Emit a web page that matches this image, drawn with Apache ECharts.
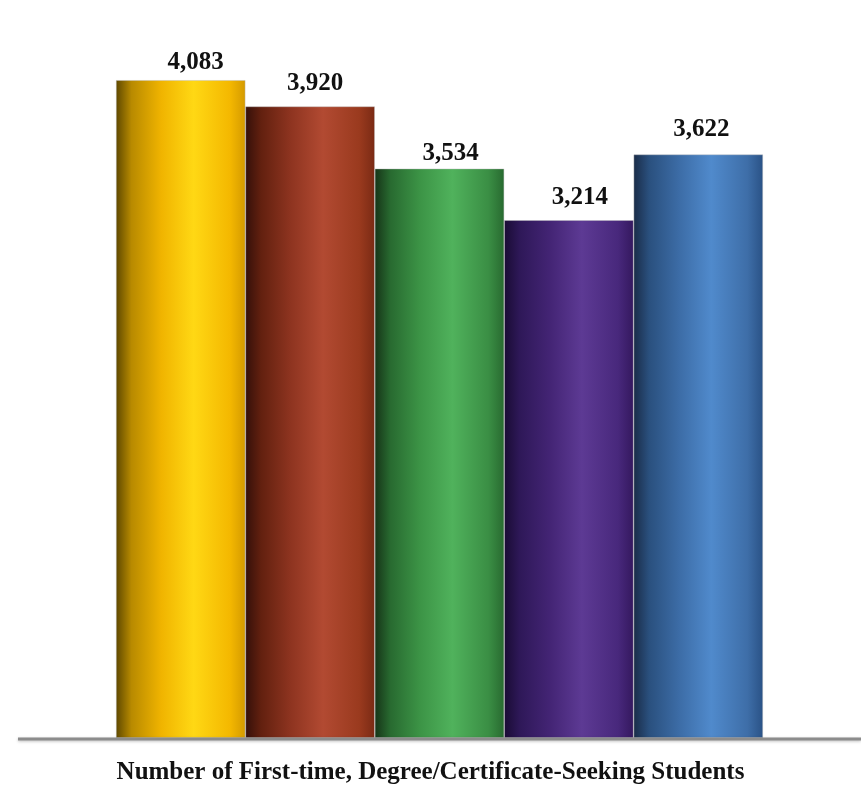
<!DOCTYPE html>
<html><head><meta charset="utf-8">
<script src="https://cdn.jsdelivr.net/npm/echarts@6/dist/echarts.min.js"></script>
<style>html,body{margin:0;padding:0;background:#fff}#c{width:861px;height:788px}</style>
</head><body><div id="c"></div>
<script>
const categories = ['Cohort 1', 'Cohort 2', 'Cohort 3', 'Cohort 4', 'Cohort 5'];
const values = [4083, 3920, 3534, 3214, 3622];
const axisTitle = 'Number of First-time, Degree/Certificate-Seeking Students';

const palettes = [
  ['#5e4800', '#b88a00', '#f0b400', '#ffd814', '#f4b800', '#d49a00'],
  ['#34100a', '#62200f', '#8e3420', '#b24a32', '#9a3a1e', '#7a2a14'],
  ['#163418', '#286a30', '#3c9446', '#50b25c', '#3a8e44', '#286a30'],
  ['#1a0c34', '#2e1858', '#432474', '#5d3a94', '#48287c', '#34185e'],
  ['#1a2c48', '#2a507e', '#3c6ca6', '#508acc', '#3e6ea8', '#2a5286']
];
const labelNudge = [[15, 5], [5, 10], [11, 3], [11, 10], [3, 12]];

function grad(p) {
  return new echarts.graphic.LinearGradient(0, 0, 1, 0, [
    {offset: 0, color: p[0]}, {offset: 0.12, color: p[1]},
    {offset: 0.35, color: p[2]}, {offset: 0.6, color: p[3]},
    {offset: 0.88, color: p[4]}, {offset: 1, color: p[5]}
  ]);
}

const chart = echarts.init(document.getElementById('c'), null, {renderer: 'canvas'});
chart.setOption({
  animation: false,
  grid: {left: 116, right: 98, top: 13, bottom: 50},
  xAxis: {type: 'category', data: categories, axisLine: {show: false}, axisTick: {show: false}, axisLabel: {show: false}},
  yAxis: {type: 'value', min: 0, max: 4500, show: false, splitLine: {show: false}},
  title: {
    text: axisTitle, left: 'center', top: 755,
    textStyle: {fontFamily: 'Liberation Serif', fontWeight: 'bold', fontSize: 25, color: '#111'}
  },
  graphic: [{
    type: 'line', shape: {x1: 18, y1: 739, x2: 861, y2: 739},
    style: {stroke: '#8c8c8c', lineWidth: 3, shadowColor: 'rgba(0,0,0,0.25)', shadowBlur: 3, shadowOffsetY: 1}, z: 10
  }],
  series: [{
    type: 'bar', barWidth: '100%', barCategoryGap: 0,
    data: values.map((v, i) => ({
      value: v,
      itemStyle: {color: grad(palettes[i]), borderColor: 'rgba(190,190,190,0.7)', borderWidth: 0.6},
      label: {offset: [labelNudge[i][0], 0], distance: labelNudge[i][1]}
    })),
    label: {
      show: true, position: 'top',
      fontFamily: 'Liberation Serif', fontWeight: 'bold', fontSize: 25, color: '#111',
      formatter: p => p.value.toLocaleString('en-US')
    }
  }]
});
</script></body></html>
